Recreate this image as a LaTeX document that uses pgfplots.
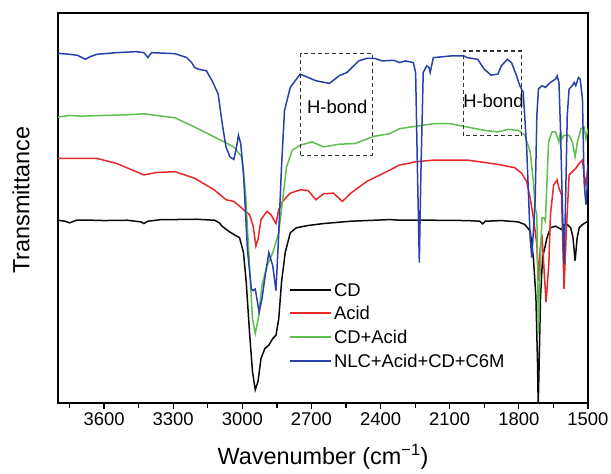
\documentclass[border=0pt]{standalone}
\usepackage{fontspec}
\setmainfont{Liberation Sans}
\usepackage{pgfplots}
\pgfplotsset{compat=1.18}
\definecolor{cdblack}{RGB}{10,10,10}
\definecolor{acidred}{RGB}{230,40,40}
\definecolor{mixgreen}{RGB}{95,190,80}
\definecolor{nlcblue}{RGB}{40,65,170}
\begin{document}
\begin{tikzpicture}
\begin{axis}[
  scale only axis, width=530bp, height=390bp,
  x dir=reverse, xmin=1500, xmax=3800, ymin=0, ymax=1180,
  xtick={1500,1800,...,3600}, minor xtick={1650,1950,...,3750},
  ytick=\empty, xtick pos=bottom, tick align=outside,
  major tick length=6bp, minor tick length=5bp,
  every tick/.style={black, line width=1.2bp},
  axis line style={line width=1.6bp},
  /pgf/number format/assume math mode=true,
  /pgf/number format/1000 sep={},
  tick label style={font=\fontsize{18.5}{22}\selectfont},
  xlabel={Wavenumber (cm\textsuperscript{−1})},
  ylabel={Transmittance},
  label style={font=\fontsize{23.5}{27}\selectfont},
  xlabel style={yshift=-12bp},
  ylabel style={at={(axis description cs:-0.07,0.52)}, anchor=center},
  clip=true,
  legend style={at={(rel axis cs:0.43,0.318)}, anchor=north west, draw=none, fill=none,
    font=\fontsize{18.5}{22.6}\selectfont, row sep=5bp},
  legend cell align=left,
  legend image code/.code={\draw[#1, line width=2bp] (0bp,0.5bp) -- (41bp,0.5bp);},
  every axis plot/.append style={line width=1.5bp},
]
\addplot[cdblack] table {
3800 553
3770 550
3749 545
3720 553
3650 553
3600 552
3500 553
3440 548
3427 543
3410 550
3350 555
3300 555
3200 556
3120 553
3100 545
3088 535
3060 520
3037 510
3012 500
2995 455
2983 365
2969 215
2956 95
2944 40
2932 65
2919 135
2902 165
2885 175
2868 195
2854 205
2842 255
2830 365
2814 455
2792 515
2766 530
2715 537
2647 543
2529 550
2359 555
2318 553
2171 553
2024 552
1970 550
1957 542
1945 550
1876 552
1803 548
1774 540
1751 520
1737 440
1726 320
1719 120
1716 -10
1712 120
1706 320
1697 440
1678 500
1663 530
1641 535
1615 525
1604 540
1590 540
1575 530
1565 500
1556 430
1547 500
1538 530
1524 540
1500 550
};
\addlegendentry{CD}
\addplot[acidred] table {
3800 740
3700 740
3631 740
3546 725
3427 690
3376 697
3292 700
3207 680
3122 645
3071 615
3037 610
3003 590
2969 570
2953 535
2941 475
2932 495
2919 555
2893 580
2876 570
2864 555
2854 543
2842 585
2825 610
2792 635
2749 645
2715 643
2681 615
2647 633
2605 635
2566 610
2529 635
2461 670
2359 705
2318 720
2244 730
2171 735
2097 735
2024 735
1950 728
1876 720
1818 712
1788 695
1766 670
1751 620
1737 560
1722 480
1715 370
1707 470
1700 510
1682 305
1670 420
1663 570
1649 660
1634 675
1626 650
1615 630
1604 345
1594 520
1582 690
1568 700
1553 710
1538 725
1524 735
1517 690
1509 660
1500 720
};
\addlegendentry{Acid}
\addplot[mixgreen] table {
3800 865
3750 870
3700 868
3600 870
3500 872
3427 875
3350 868
3292 863
3207 835
3122 805
3037 775
3003 745
2986 635
2969 415
2956 255
2944 210
2931 255
2915 355
2893 415
2868 455
2842 515
2825 615
2808 715
2783 765
2749 780
2698 790
2647 775
2580 783
2512 785
2427 807
2359 815
2318 830
2171 845
2097 845
2024 835
1950 825
1891 820
1847 828
1803 825
1774 810
1751 760
1737 670
1729 590
1722 570
1715 210
1707 420
1700 560
1692 560
1685 550
1678 670
1671 790
1656 820
1641 820
1626 790
1619 820
1612 800
1604 810
1582 810
1568 790
1556 745
1546 790
1530 830
1517 835
1509 800
1500 830
};
\addlegendentry{CD+Acid}
\addplot[nlcblue] table {
3800 1058
3749 1055
3715 1052
3690 1043
3681 1040
3660 1048
3631 1055
3546 1060
3461 1063
3427 1060
3415 1050
3410 1045
3400 1055
3393 1060
3292 1057
3241 1045
3220 1030
3207 1015
3190 1010
3156 1005
3131 975
3105 935
3085 835
3071 775
3054 745
3037 737
3025 775
3017 810
3007 785
2995 695
2978 465
2961 345
2953 340
2944 345
2927 275
2915 315
2902 380
2885 455
2868 415
2854 340
2842 515
2830 715
2817 885
2792 955
2749 995
2715 985
2681 975
2622 967
2580 990
2546 1000
2495 1035
2461 1043
2427 1043
2393 1035
2342 1037
2318 1030
2292 1035
2258 1030
2248 1000
2240 700
2232 425
2225 700
2215 1000
2200 1020
2190 1015
2185 1000
2171 1045
2097 1050
2038 1050
2024 1045
1979 1040
1950 1010
1921 992
1891 995
1876 1020
1850 1040
1832 1030
1810 990
1796 960
1781 940
1766 770
1751 500
1744 440
1737 520
1729 620
1722 870
1715 950
1700 960
1685 955
1663 970
1641 980
1634 990
1626 970
1619 820
1612 620
1604 420
1597 620
1590 870
1582 950
1568 960
1560 970
1553 960
1541 985
1534 980
1524 920
1517 670
1509 600
1504 650
1500 720
};
\addlegendentry{NLC+Acid+CD+C6M}
\draw[black!80, dashed, dash pattern=on 4bp off 3bp, line width=1.1bp]
  (axis cs:2746,750) rectangle (axis cs:2436,1058);
\draw[black!80, dashed, dash pattern=on 4bp off 3bp, line width=1.1bp]
  (axis cs:2042,808) rectangle (axis cs:1788,1065);
\node[font=\fontsize{18.5}{22}\selectfont] at (axis cs:2588,895) {H-bond};
\node[font=\fontsize{18.5}{22}\selectfont] at (axis cs:1910,915) {H-bond};
\end{axis}
\pgfresetboundingbox
\path (current axis.south west) ++(-58bp,-71bp) coordinate (bbsw);
\path (current axis.north east) ++(23bp,13bp) coordinate (bbne);
\path (bbsw) rectangle (bbne);
\end{tikzpicture}
\end{document}
